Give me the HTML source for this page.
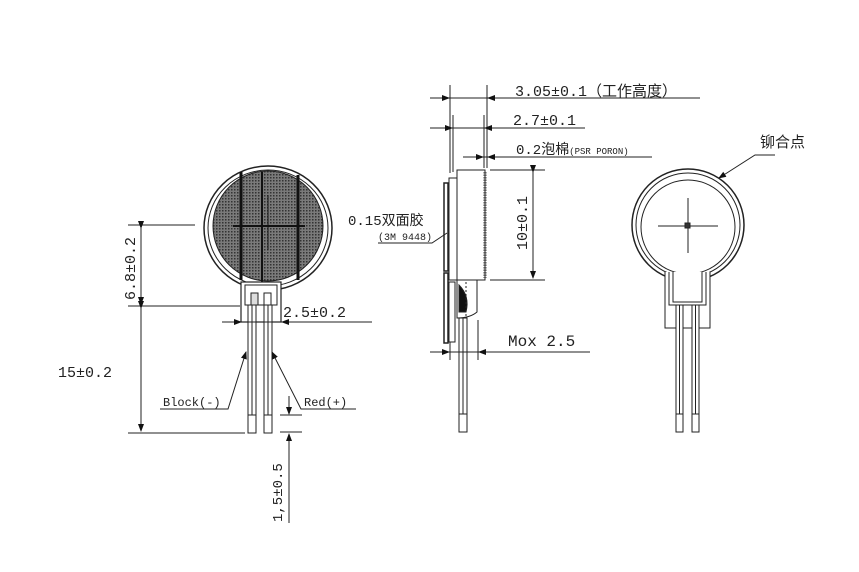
<!DOCTYPE html>
<html><head><meta charset="utf-8"><style>
html,body{margin:0;padding:0;background:#fff;}
svg{display:block;}
text{font-family:"Liberation Mono","Noto Sans CJK SC",monospace;fill:#222;}
</style></head><body>
<svg width="859" height="572" viewBox="0 0 859 572" xmlns="http://www.w3.org/2000/svg">
<defs>
<pattern id="mesh" width="3" height="3" patternUnits="userSpaceOnUse">
<rect width="3" height="3" fill="#7a7a7a"/><rect width="1.5" height="1.5" fill="#333"/>
</pattern>
<marker id="ar" markerWidth="8" markerHeight="6" refX="7" refY="3" orient="auto" markerUnits="userSpaceOnUse"><path d="M0,0 L8,3 L0,6z" fill="#111"/></marker>
</defs>
<g stroke="#222" stroke-width="1" fill="none">
<!-- LEFT VIEW -->
<ellipse cx="268" cy="228" rx="64" ry="62" fill="#fff" stroke-width="1.5"/>
<ellipse cx="268" cy="228" rx="60" ry="58"/>
<ellipse cx="268" cy="226" rx="55" ry="55" fill="url(#mesh)"/>
<line x1="241" y1="172" x2="241" y2="280" stroke="#111" stroke-width="3"/>
<line x1="262" y1="172" x2="262" y2="282" stroke="#111" stroke-width="2"/>
<line x1="298" y1="175" x2="298" y2="280" stroke="#111" stroke-width="3"/>
<line x1="233" y1="226" x2="305" y2="226" stroke="#111" stroke-width="2"/>
<line x1="268" y1="195" x2="268" y2="250" stroke="#111"/>
<rect x="241" y="282" width="40" height="40" fill="#fff" stroke-width="1.2"/>
<rect x="245" y="285" width="32" height="20"/>
<rect x="251" y="293" width="7" height="12" fill="#ddd"/>
<rect x="264" y="293" width="7" height="12"/>
<rect x="248" y="305" width="8" height="128" fill="#fff"/>
<line x1="252" y1="305" x2="252" y2="415"/>
<rect x="264" y="305" width="8" height="128" fill="#fff"/>
<line x1="268" y1="305" x2="268" y2="415"/>
<line x1="248" y1="415" x2="256" y2="415"/><line x1="264" y1="415" x2="272" y2="415"/>
<line x1="128" y1="225" x2="195" y2="225"/>
<line x1="128" y1="306" x2="240" y2="306"/>
<line x1="128" y1="433" x2="245" y2="433"/>
<line x1="141" y1="228" x2="141" y2="304" marker-start="url(#ar)" marker-end="url(#ar)"/>
<line x1="141" y1="308" x2="141" y2="431" marker-start="url(#ar)" marker-end="url(#ar)"/>
<line x1="222" y1="322" x2="372" y2="322"/>
<line x1="232" y1="322" x2="241" y2="322" marker-end="url(#ar)"/>
<line x1="292" y1="322" x2="282" y2="322" marker-end="url(#ar)"/>
<polyline points="160,409 228,409 246,352" marker-end="url(#ar)"/>
<polyline points="356,409 301,409 272,352" marker-end="url(#ar)"/>
<line x1="280" y1="415" x2="302" y2="415"/>
<line x1="280" y1="432" x2="302" y2="432"/>
<line x1="289" y1="396" x2="289" y2="414" marker-end="url(#ar)"/>
<line x1="289" y1="523" x2="289" y2="434" marker-end="url(#ar)"/>

<!-- MIDDLE VIEW -->
<line x1="450" y1="85" x2="450" y2="173"/>
<line x1="487" y1="85" x2="487" y2="168"/>
<line x1="453" y1="115" x2="453" y2="172"/>
<line x1="484" y1="115" x2="484" y2="168"/>
<line x1="430" y1="98" x2="700" y2="98"/>
<line x1="438" y1="98" x2="449" y2="98" marker-end="url(#ar)"/>
<line x1="498" y1="98" x2="488" y2="98" marker-end="url(#ar)"/>
<line x1="430" y1="128" x2="585" y2="128"/>
<line x1="442" y1="128" x2="452" y2="128" marker-end="url(#ar)"/>
<line x1="495" y1="128" x2="485" y2="128" marker-end="url(#ar)"/>
<line x1="463" y1="157" x2="652" y2="157"/>
<line x1="474" y1="157" x2="483" y2="157" marker-end="url(#ar)"/>
<line x1="496" y1="157" x2="488" y2="157" marker-end="url(#ar)"/>
<rect x="444" y="183" width="4" height="88" fill="#fff" stroke-width="1.5"/>
<rect x="449" y="178" width="8" height="102" fill="#fff"/>
<rect x="444" y="273" width="4" height="70" fill="#fff" stroke-width="1.5"/>
<rect x="449" y="282" width="6" height="60"/>
<rect x="457" y="170" width="28" height="110" fill="#fff"/>
<line x1="485" y1="172" x2="485" y2="278" stroke="#555" stroke-width="3" stroke-dasharray="1.5,1"/>
<path d="M457,280 L477,280 L477,312 Q470,318 457,318 Z" fill="#fff"/>
<path d="M459,285 Q470,296 466,312 L459,312 Z" fill="#111"/>
<line x1="466" y1="282" x2="466" y2="316" stroke-dasharray="2,2"/>
<rect x="459" y="318" width="8" height="114" fill="#fff"/>
<line x1="463" y1="318" x2="463" y2="414"/>
<line x1="459" y1="414" x2="467" y2="414"/>
<line x1="490" y1="170" x2="545" y2="170"/>
<line x1="490" y1="280" x2="545" y2="280"/>
<line x1="533" y1="172" x2="533" y2="278" marker-start="url(#ar)" marker-end="url(#ar)"/>
<line x1="430" y1="352" x2="590" y2="352"/>
<line x1="440" y1="352" x2="449" y2="352" marker-end="url(#ar)"/>
<line x1="488" y1="352" x2="479" y2="352" marker-end="url(#ar)"/>
<line x1="450" y1="342" x2="450" y2="360"/>
<line x1="478" y1="320" x2="478" y2="360"/>
<polyline points="378,243 432,243 447,233"/>

<!-- RIGHT VIEW -->
<circle cx="688" cy="225" r="56" fill="#fff" stroke-width="1.5"/>
<circle cx="688" cy="225" r="52"/>
<circle cx="688" cy="227" r="47"/>
<line x1="658" y1="226" x2="718" y2="226"/>
<line x1="688" y1="198" x2="688" y2="253"/>
<rect x="685" y="223" width="5" height="5" fill="#333"/>
<path d="M665,272 L665,328 L710,328 L710,272" fill="#fff"/>
<path d="M669,272 L669,305 L706,305 L706,272"/>
<path d="M673,272 L673,302 L702,302 L702,272"/>
<rect x="676" y="305" width="7" height="127" fill="#fff"/>
<line x1="679.5" y1="305" x2="679.5" y2="414"/>
<rect x="692" y="305" width="7" height="127" fill="#fff"/>
<line x1="695.5" y1="305" x2="695.5" y2="414"/>
<line x1="676" y1="414" x2="683" y2="414"/><line x1="692" y1="414" x2="699" y2="414"/>
<polyline points="775,155 755,155 719,178" marker-end="url(#ar)"/>
</g>
<text x="0" y="0" font-size="15" transform="translate(135,300) rotate(-90)">6.8±0.2</text>
<text x="58" y="377" font-size="15" font-family="Liberation Serif">15±0.2</text>
<text x="283" y="317" font-size="15">2.5±0.2</text>
<text x="163" y="406" font-size="12">Block(-)</text>
<text x="304" y="406" font-size="12">Red(+)</text>
<text x="0" y="0" font-size="14" transform="translate(282,522) rotate(-90)">1,5±0.5</text>
<text x="515" y="96" font-size="15">3.05±0.1（工作高度）</text>
<text x="513" y="125" font-size="15">2.7±0.1</text>
<text x="516" y="154" font-size="14">0.2泡棉<tspan font-size="9">(PSR PORON)</tspan></text>
<text x="0" y="0" font-size="15" transform="translate(527,250) rotate(-90)">10±0.1</text>
<text x="348" y="225" font-size="14">0.15双面胶</text>
<text x="378" y="240" font-size="10">(3M 9448)</text>
<text x="508" y="346" font-size="16">Mox 2.5</text>
<text x="760" y="147" font-size="15">铆合点</text>
</svg>
</body></html>
